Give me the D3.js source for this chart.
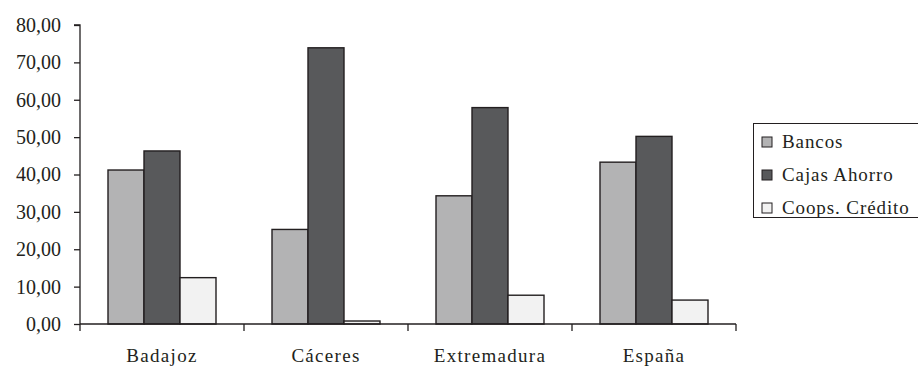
<!DOCTYPE html>
<html><head><meta charset="utf-8">
<script src="https://cdn.jsdelivr.net/npm/d3@7/dist/d3.min.js"></script>
</head><body style="margin:0">
<svg id="c" width="918" height="367" font-family="Liberation Serif" style="display:block;background:#fff"></svg>
<script>
const categories = ["Badajoz","Cáceres","Extremadura","España"];
const seriesNames = ["Bancos","Cajas Ahorro","Coops. Crédito"];
const bancos = [41.2, 25.3, 34.3, 43.3];
const cajas = [46.3, 73.9, 57.9, 50.2];
const coops = [12.4, 0.8, 7.7, 6.4];
const yTicks = [0,10,20,30,40,50,60,70,80];
const colors = ["#b3b3b4","#58595b","#f2f2f2"];
const seriesValues = [bancos, cajas, coops];
const FONT = "Liberation Serif";

const svg = d3.select("#c");
const x0 = 80, x1 = 736, yBase = 324, yTop = 25;
const x = d3.scaleBand().domain(categories).range([x0, x1]).paddingInner(56/164).paddingOuter(28/164);
const xs = d3.scaleBand().domain(seriesNames).range([0, x.bandwidth()]);
const y = d3.scaleLinear().domain([0,80]).range([yBase, yTop]);
const fmt = v => d3.format(".2f")(v).replace(".", ",");

// bars
const g = svg.append("g");
categories.forEach((c, i) => {
  seriesNames.forEach((s, j) => {
    const v = seriesValues[j][i];
    g.append("rect")
      .attr("x", x(c) + xs(s))
      .attr("y", y(v))
      .attr("width", xs.bandwidth())
      .attr("height", y(0) - y(v))
      .attr("fill", colors[j])
      .attr("stroke", "#231f20")
      .attr("stroke-width", 1.4);
  });
});

// legend
const lg = svg.append("g");
lg.append("rect").attr("x", 753.5).attr("y", 123.5).attr("width", 170).attr("height", 94)
  .attr("fill","#fff").attr("stroke","#231f20").attr("stroke-width",1);
seriesNames.forEach((s, j) => {
  const cy = 142 + j*33;
  lg.append("rect").attr("x", 762).attr("y", cy-5).attr("width", 10).attr("height", 10)
    .attr("fill", colors[j]).attr("stroke","#231f20").attr("stroke-width",1);
  lg.append("text").attr("x", 782).attr("y", cy+6).attr("fill","#231f20")
    .attr("font-family",FONT).attr("font-size",19).attr("letter-spacing",0.9).text(s);
});

// x axis
const step = x.step();
const xa = svg.append("g");
xa.append("line").attr("x1", x0).attr("x2", x1).attr("y1", yBase).attr("y2", yBase).attr("stroke","#231f20").attr("stroke-width",1.3);
categories.forEach((c, i) => {
  const bx = x(c) + x.bandwidth()/2 + step/2;
  xa.append("line").attr("x1", bx).attr("x2", bx).attr("y1", yBase).attr("y2", yBase+7).attr("stroke","#231f20").attr("stroke-width",1.3);
  xa.append("text").attr("x", x(c) + x.bandwidth()/2).attr("y", 362)
    .attr("text-anchor","middle").attr("fill","#231f20")
    .attr("font-family",FONT).attr("font-size",19).attr("letter-spacing",1.3).text(c);
});

// y axis
const ya = svg.append("g").attr("transform", `translate(${x0},0)`)
  .call(d3.axisLeft(y).tickValues(yTicks).tickFormat(fmt).tickSize(6).tickPadding(13));
ya.attr("font-family", FONT).attr("font-size", 20);
ya.select(".domain").attr("stroke","#231f20").attr("stroke-width",1.3).attr("d", `M-6,${yTop}H0V${yBase+7}`);
ya.selectAll(".tick line").attr("stroke","#231f20").attr("stroke-width",1.3);
ya.selectAll(".tick text").attr("font-size",20).attr("font-family",FONT).attr("fill","#231f20");
</script></body></html>
